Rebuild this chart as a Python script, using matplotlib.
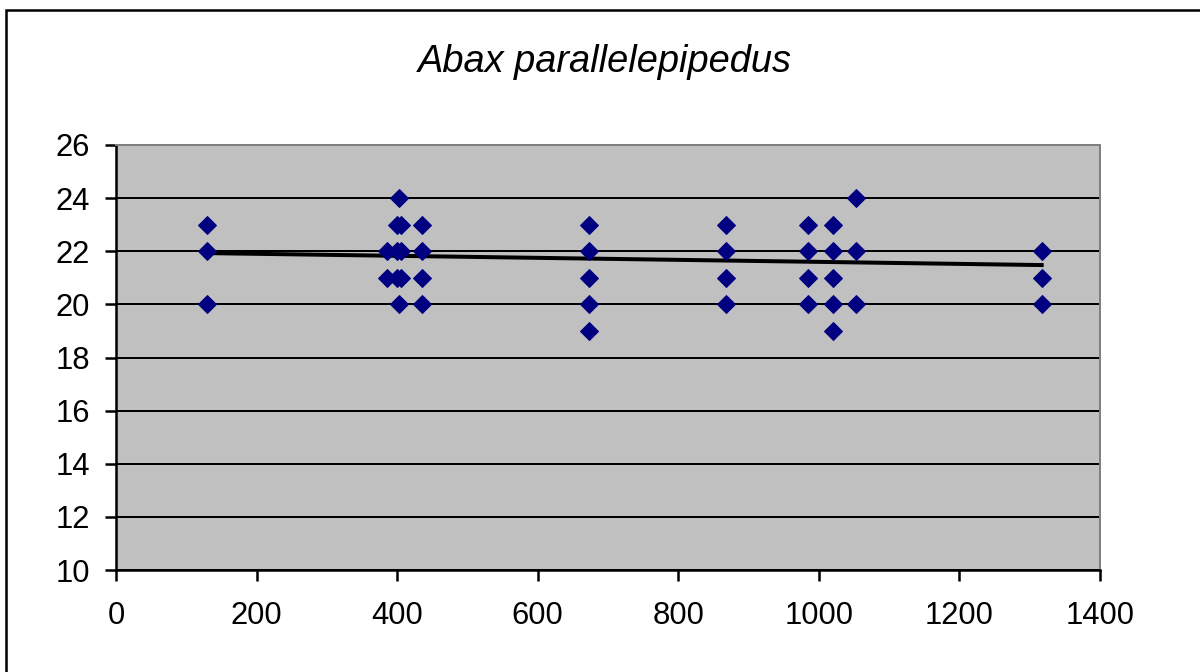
import numpy as np
import matplotlib
matplotlib.use("Agg")
import matplotlib.pyplot as plt
from matplotlib.patches import Rectangle

# ----------------------------- data -----------------------------------------
TITLE = "Abax parallelepipedus"
X_SITE = [130, 130, 130,
          385, 385,
          403, 400, 406, 400, 406, 400, 406, 403,
          435, 435, 435, 435,
          673, 673, 673, 673, 673,
          868, 868, 868, 868,
          984, 984, 984, 984,
          1020, 1020, 1020, 1020, 1020,
          1053, 1053, 1053,
          1317, 1317, 1317]
Y_VAL = [23, 22, 20,
         22, 21,
         24, 23, 23, 22, 22, 21, 21, 20,
         23, 22, 21, 20,
         23, 22, 21, 20, 19,
         23, 22, 21, 20,
         23, 22, 21, 20,
         23, 22, 21, 20, 19,
         24, 22, 20,
         22, 21, 20]
# linear trend line as drawn in the original chart
TREND_X = [130, 1317]
TREND_Y = [21.93, 21.48]
X_TICKS = [0, 200, 400, 600, 800, 1000, 1200, 1400]
Y_TICKS = [10, 12, 14, 16, 18, 20, 22, 24, 26]

# ----------------------------- plotting -------------------------------------
# dpi 72 so that 1 pt == 1 px
W, H, DPI = 1200, 672, 72
plt.rcParams.update({"font.family": ["Liberation Sans", "DejaVu Sans"],
                     "font.size": 31})

fig = plt.figure(figsize=(W / DPI, H / DPI), dpi=DPI)
ax = fig.add_axes([116 / W, 1 - 570 / H, 984 / W, 425 / H])
ax.set_facecolor("#c0c0c0")

ax.plot(TREND_X, TREND_Y, color="black", lw=4, zorder=3)
ax.plot(X_SITE, Y_VAL, "D", color="#000080", ms=13, mew=1,
        mec="#000080", zorder=4)

ax.set_xlim(0, 1400); ax.set_ylim(10, 26)
ax.set_xticks(X_TICKS); ax.set_yticks(Y_TICKS)
ax.yaxis.grid(True, color="black", lw=2)
ax.set_axisbelow(True)
for s in ("top", "right"):
    ax.spines[s].set_color("#808080"); ax.spines[s].set_linewidth(2)
for s in ("left", "bottom"):
    ax.spines[s].set_color("black"); ax.spines[s].set_linewidth(2.5)
ax.tick_params(direction="out", length=11, width=2.5)
ax.tick_params(axis="x", pad=20)
ax.tick_params(axis="y", pad=15)

fig.text(605 / W, 1 - 72 / H, TITLE, ha="center", va="baseline",
         style="italic", fontsize=38)
fig.patches.append(Rectangle((6 / W, -0.1), 1.2, 1 - 10 / H + 0.1,
                             transform=fig.transFigure, fill=False,
                             ec="black", lw=2.5))
fig.savefig("out.png", dpi=DPI)
